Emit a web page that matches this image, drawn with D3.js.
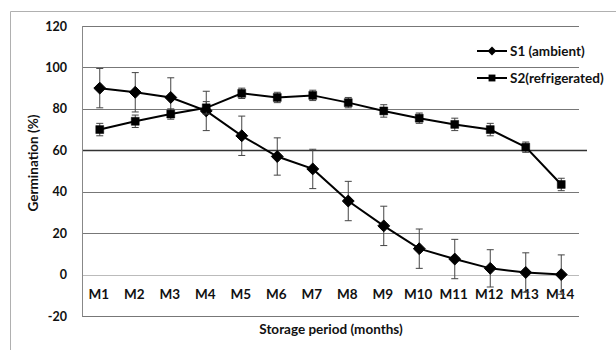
<!DOCTYPE html>
<html><head><meta charset="utf-8">
<script src="https://cdn.jsdelivr.net/npm/d3@7"></script>
<style>body{margin:0;background:#fff}svg{display:block}</style>
</head><body>
<svg id="c" width="616" height="350"></svg>
<script>
const months = ["M1","M2","M3","M4","M5","M6","M7","M8","M9","M10","M11","M12","M13","M14"];
const s1Values = [90,88,85.5,79,67,57,51,35.5,23.5,12.5,7.5,3,1,0];
const s1Errors = [9.5,9.5,9.5,9.5,9.5,9,9.5,9.5,9.5,9.5,9.5,9,9.5,9.5];
const s2Values = [70,74,77.5,80.5,87.5,85.5,86.5,83,79,75.5,72.5,70,61.5,43.5];
const s2Errors = [3,3,2.5,3,2.5,2.5,2.5,2.5,3,2.5,3,3,2.5,3];
const yTicks = [-20,0,20,40,60,80,100,120];
const seriesNames = ["S1 (ambient)","S2(refrigerated)"];

const svg = d3.select("#c");
const font = "Lato, 'Open Sans', sans-serif";
const L=82,R=579,T=26,B=316;
const x = d3.scaleBand().domain(months).range([L,R]);
const y = d3.scaleLinear().domain([-20,120]).range([B,T]);
const cx = d => x(d)+x.bandwidth()/2;

// outer border
svg.append("path").attr("d","M10.5,350 V11.5 H616").attr("fill","none").attr("stroke","#b0b0b0").attr("stroke-width",1);

// gridlines
svg.append("g").selectAll("line").data(yTicks).join("line")
  .attr("x1",L).attr("x2",d=>d===60?587:R)
  .attr("y1",d=>Math.round(y(d))+0.5).attr("y2",d=>Math.round(y(d))+0.5)
  .attr("stroke",d=>d===60?"#333":(d===0?"#bbb":"#777"))
  .attr("stroke-width",d=>d===60?1.6:1);
svg.append("line").attr("x1",L+0.5).attr("x2",L+0.5).attr("y1",T).attr("y2",B+0.5).attr("stroke","#888");

// y tick labels
svg.append("g").selectAll("text").data(yTicks).join("text")
  .attr("x",67).attr("y",d=>y(d)+4.5).attr("text-anchor","end")
  .attr("font-family",font).attr("font-weight","bold").attr("font-size",12.5).attr("fill","#111")
  .text(d=>d);

// x labels
svg.append("g").selectAll("text").data(months).join("text")
  .attr("x",d=>cx(d)-1).attr("y",299).attr("text-anchor","middle")
  .attr("font-family",font).attr("font-weight","bold").attr("font-size",13.5).attr("fill","#111")
  .text(d=>d);

// axis titles
svg.append("text").attr("x",331).attr("y",334).attr("text-anchor","middle")
  .attr("font-family",font).attr("font-weight","bold").attr("font-size",13.5).attr("fill","#111")
  .text("Storage period (months)");
svg.append("text").attr("transform","translate(38,163) rotate(-90)").attr("text-anchor","middle")
  .attr("font-family",font).attr("font-weight","bold").attr("font-size",13.5).attr("fill","#111")
  .text("Germination (%)");

function drawSeries(vals, errs, shape){
  const g = svg.append("g");
  g.selectAll("g.eb").data(months).join("g").attr("class","eb").each(function(m,i){
    const gg=d3.select(this), px=cx(m);
    const y1=y(vals[i]+errs[i]), y2=y(vals[i]-errs[i]);
    gg.append("line").attr("x1",px).attr("x2",px).attr("y1",y1).attr("y2",y2).attr("stroke","#444").attr("stroke-width",1);
    [y1,y2].forEach(yy=>gg.append("line").attr("x1",px-3.5).attr("x2",px+3.5).attr("y1",yy).attr("y2",yy).attr("stroke","#444").attr("stroke-width",1));
  });
  g.append("path").datum(months).attr("fill","none").attr("stroke","#000").attr("stroke-width",2)
    .attr("d",d3.line().x(cx).y((m,i)=>y(vals[i])));
  g.selectAll("path.mk").data(months).join("path").attr("class","mk")
    .attr("transform",(m,i)=>`translate(${cx(m)},${y(vals[i])})`)
    .attr("d",d3.symbol().type(shape==="d"?d3.symbolDiamond2:d3.symbolSquare2).size(shape==="d"?90:80))
    .attr("fill","#000").attr("stroke","#000").attr("stroke-width",shape==="d"?1:0.5);
}
drawSeries(s1Values,s1Errors,"d");
drawSeries(s2Values,s2Errors,"s");

// legend
const leg = svg.append("g");
seriesNames.forEach((n,i)=>{
  const ly = 51+i*27;
  leg.append("line").attr("x1",477).attr("x2",507).attr("y1",ly).attr("y2",ly).attr("stroke","#000").attr("stroke-width",2);
  leg.append("path").attr("transform",`translate(492,${ly})`)
    .attr("d",d3.symbol().type(i===0?d3.symbolDiamond2:d3.symbolSquare2).size(i===0?50:60)).attr("fill","#000");
  leg.append("text").attr("x",510).attr("y",ly+5).attr("font-family",font).attr("font-weight","bold")
    .attr("font-size",13.5).attr("fill","#111").text(n);
});
</script>
</body></html>
